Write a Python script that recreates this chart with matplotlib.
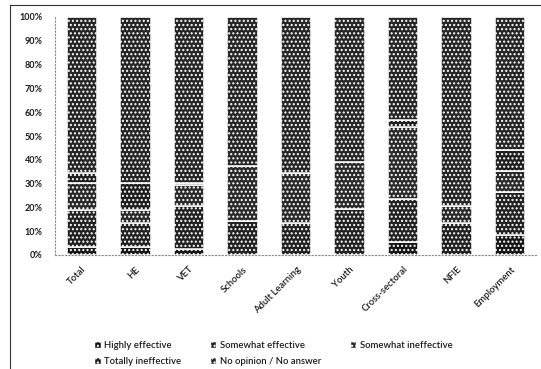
import matplotlib
matplotlib.use("Agg")
import matplotlib.pyplot as plt
from matplotlib.lines import Line2D
from matplotlib.patches import Patch
import numpy as np

plt.rcParams['font.family'] = ['Lato', 'DejaVu Sans']
plt.rcParams['hatch.linewidth'] = 1.0

categories = ["Total", "HE", "VET", "Schools", "Adult Learning", "Youth",
              "Cross-sectoral", "NFIE", "Employment"]
series_names = ["Highly effective", "Somewhat effective", "Somewhat ineffective",
                "Totally ineffective", "No opinion / No answer"]

highly_effective     = [3.4, 3.4, 2.5, 0.0, 0.0, 0.0, 5.3, 0.0, 8.4]
somewhat_effective   = [15.5, 10.0, 18.1, 14.3, 13.5, 19.3, 18.2, 13.5, 18.1]
somewhat_ineffective = [11.4, 5.7, 8.7, 23.1, 21.0, 19.8, 30.3, 6.9, 8.8]
totally_ineffective  = [4.2, 11.2, 1.0, 0.0, 0.0, 0.0, 2.9, 0.0, 8.8]
no_opinion           = [65.5, 69.7, 69.7, 62.6, 65.5, 60.9, 43.3, 79.6, 55.9]

y_ticks = list(range(0, 101, 10))
y_tick_labels = [f"{v}%" for v in y_ticks]

series = [highly_effective, somewhat_effective, somewhat_ineffective,
          totally_ineffective, no_opinion]
faces = ["#161616", "#222222", "#2a2a2a", "#1e1e1e", "#262626"]
hatches = ["....", "....", "....", "....", "...."]

fig = plt.figure(figsize=(5.41, 3.69), dpi=100)
ax = fig.add_axes([55 / 541, 1 - 255 / 369, 482 / 541, 238 / 369])

x = np.arange(len(categories))
bottom = np.zeros(len(categories))
for vals, fc, h in zip(series, faces, hatches):
    vals = np.array(vals, dtype=float)
    ax.bar(x, vals, 0.57, bottom=bottom, color=fc, edgecolor="white",
           linewidth=1.1, hatch=h)
    bottom += vals

ax.set_xlim(-0.5, len(categories) - 0.5)
ax.set_ylim(0, 100)
ax.set_yticks(y_ticks)
ax.set_yticklabels(y_tick_labels, fontsize=6.5, fontweight="bold", color="#1a1a1a")
ax.set_xticks(x)
ax.set_xticklabels(categories, rotation=45, ha="right", rotation_mode="anchor",
                   fontsize=6.8, fontweight="semibold", color="#1a1a1a")
ax.tick_params(axis="both", length=0)
ax.tick_params(axis="y", pad=9)
ax.tick_params(axis="x", pad=7)

for side in ["top", "right"]:
    ax.spines[side].set_visible(False)
for side in ["left", "bottom"]:
    ax.spines[side].set_linestyle((0, (1, 2)))
    ax.spines[side].set_color("#888888")
    ax.spines[side].set_linewidth(0.8)

# chart frame
fig.add_artist(Line2D([10 / 541, 10 / 541], [0, 1 - 5 / 369], color="#333333", lw=0.8))
fig.add_artist(Line2D([10 / 541, 1], [1 - 5 / 369, 1 - 5 / 369], color="#333333", lw=0.8))

handles = [Patch(facecolor=fc, edgecolor="white", hatch=h, label=n)
           for fc, h, n in zip(faces, hatches, series_names)]
order = [0, 3, 1, 4, 2]
leg = fig.legend([handles[i] for i in order], [series_names[i] for i in order],
                 ncol=3, loc="upper left", bbox_to_anchor=(94 / 541, 1 - 341 / 369),
                 frameon=False, fontsize=6.8, handlelength=0.7, handleheight=0.7,
                 handletextpad=0.4, columnspacing=3.0, labelspacing=0.75,
                 borderaxespad=0, borderpad=0)
for t in leg.get_texts():
    t.set_color("#1a1a1a")
    t.set_fontweight("semibold")

fig.savefig("out.png", dpi=100)
